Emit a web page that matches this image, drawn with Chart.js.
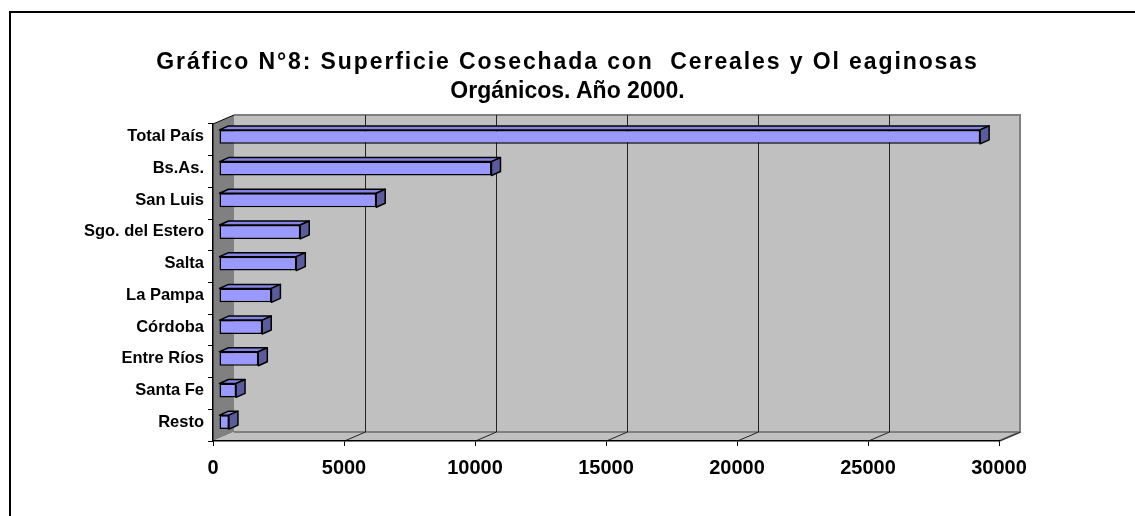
<!DOCTYPE html>
<html>
<head>
<meta charset="utf-8">
<script src="https://cdn.jsdelivr.net/npm/chart.js@4"></script>
<style>
  body { margin: 0; background: #fff; }
  #wrap { position: relative; width: 1135px; height: 516px; overflow: hidden; }
  #frame { position: absolute; left: 9px; top: 11px; width: 1200px; height: 600px;
           border-left: 2px solid #000; border-top: 2px solid #000; }
  #title { position: absolute; left: 0; top: 47px; width: 1135px; text-align: center;
           font: bold 23px "Liberation Sans", Arial, sans-serif; line-height: 29px; color: #000; }
  #title .l1 { letter-spacing: 1.9px; }
  canvas { position: absolute; left: 0; top: 0; }
</style>
</head>
<body>
<div id="wrap">
  <div id="frame"></div>
  <canvas id="myChart" width="1135" height="516"></canvas>
  <div id="title"><span class="l1">Gráfico N°8: Superficie Cosechada con&nbsp; Cereales y Ol eaginosas</span><br>Orgánicos. Año 2000.</div>
</div>
<script>
const categories = [
  'Total País', 'Bs.As.', 'San Luis', 'Sgo. del Estero', 'Salta',
  'La Pampa', 'Córdoba', 'Entre Ríos', 'Santa Fe', 'Resto'
];
const superficie = [29050, 10400, 6000, 3100, 2950, 2000, 1650, 1500, 650, 380];
const xMin = 0;
const xMax = 30000;
const xStep = 5000;

// depth of the 3d box and of the bars
const wallDx = 21, wallDy = -9;
const barShiftX = 6, barShiftY = -3;
const barDx = 9, barDy = -4;

const walls = {
  id: 'walls',
  beforeDraw(chart) {
    const ctx = chart.ctx;
    const a = chart.chartArea;
    const xs = chart.scales.x;
    ctx.save();
    // back wall
    ctx.fillStyle = '#c0c0c0';
    ctx.fillRect(a.left + wallDx, a.top + wallDy, a.right - a.left, a.bottom - a.top);
    // left wall
    ctx.fillStyle = '#808080';
    ctx.beginPath();
    ctx.moveTo(a.left, a.top);
    ctx.lineTo(a.left + wallDx, a.top + wallDy);
    ctx.lineTo(a.left + wallDx, a.bottom + wallDy);
    ctx.lineTo(a.left, a.bottom);
    ctx.closePath();
    ctx.fill();
    // floor
    ctx.fillStyle = '#c0c0c0';
    ctx.beginPath();
    ctx.moveTo(a.left, a.bottom);
    ctx.lineTo(a.left + wallDx, a.bottom + wallDy);
    ctx.lineTo(a.right + wallDx, a.bottom + wallDy);
    ctx.lineTo(a.right, a.bottom);
    ctx.closePath();
    ctx.fill();
    // wall edges
    ctx.strokeStyle = '#808080';
    ctx.lineWidth = 2;
    ctx.beginPath();
    ctx.moveTo(a.left + wallDx, a.top + wallDy);
    ctx.lineTo(a.right + wallDx, a.top + wallDy);
    ctx.lineTo(a.right + wallDx, a.bottom + wallDy);
    ctx.lineTo(a.right, a.bottom);
    ctx.moveTo(a.left + wallDx, a.bottom + wallDy);
    ctx.lineTo(a.right + wallDx, a.bottom + wallDy);
    ctx.stroke();
    // gridlines on back wall and floor
    ctx.strokeStyle = '#222';
    ctx.lineWidth = 1;
    for (let v = xMin + xStep; v < xMax; v += xStep) {
      const x = Math.round(xs.getPixelForValue(v)) + 0.5;
      ctx.beginPath();
      ctx.moveTo(x + wallDx, a.top + wallDy);
      ctx.lineTo(x + wallDx, a.bottom + wallDy);
      ctx.stroke();
    }
    for (let v = xMin + xStep; v <= xMax; v += xStep) {
      const x = Math.round(xs.getPixelForValue(v)) + 0.5;
      ctx.beginPath();
      ctx.moveTo(x, a.bottom);
      ctx.lineTo(x + wallDx, a.bottom + wallDy);
      ctx.stroke();
    }
    ctx.beginPath();
    ctx.moveTo(a.left, a.top);
    ctx.lineTo(a.left + wallDx, a.top + wallDy);
    ctx.strokeStyle = '#000';
    ctx.stroke();
    ctx.restore();
  },
  beforeDatasetsDraw(chart) {
    chart.ctx.save();
    chart.ctx.translate(barShiftX, barShiftY);
  },
  afterDatasetsDraw(chart) {
    const ctx = chart.ctx;
    const meta = chart.getDatasetMeta(0);
    ctx.lineWidth = 1.5;
    ctx.strokeStyle = '#000';
    ctx.lineJoin = 'round';
    meta.data.forEach(bar => {
      const p = bar.getProps(['x', 'y', 'base', 'height'], true);
      const top = p.y - p.height / 2, bot = p.y + p.height / 2;
      // top face
      ctx.fillStyle = '#8484e6';
      ctx.beginPath();
      ctx.moveTo(p.base, top);
      ctx.lineTo(p.base + barDx, top + barDy);
      ctx.lineTo(p.x + barDx, top + barDy);
      ctx.lineTo(p.x, top);
      ctx.closePath();
      ctx.fill();
      ctx.stroke();
      // side face
      ctx.fillStyle = '#5c5c9c';
      ctx.beginPath();
      ctx.moveTo(p.x, top);
      ctx.lineTo(p.x + barDx, top + barDy);
      ctx.lineTo(p.x + barDx, bot + barDy);
      ctx.lineTo(p.x, bot);
      ctx.closePath();
      ctx.fill();
      ctx.stroke();
    });
    ctx.restore();
  }
};

const data = {
  labels: categories,
  datasets: [{
    data: superficie,
    backgroundColor: '#9999ff',
    borderColor: '#000',
    borderWidth: 1.5,
    borderSkipped: false,
    barPercentage: 0.44,
    categoryPercentage: 1,
    clip: false
  }]
};

const config = {
  type: 'bar',
  data: data,
  options: {
    indexAxis: 'y',
    responsive: false,
    animation: false,
    layout: { padding: { top: 124, right: 136, left: 0, bottom: 0 } },
    scales: {
      x: {
        min: xMin,
        max: xMax,
        afterFit(s) { s.height = 75; },
        ticks: {
          stepSize: xStep,
          color: '#000',
          padding: 10,
          callback: v => String(v),
          font: { family: 'Liberation Sans', weight: 'bold', size: 20 }
        },
        grid: { drawOnChartArea: false, drawTicks: true, tickLength: 5, color: '#000' },
        border: { color: '#000', width: 1.5 }
      },
      y: {
        afterFit(s) { s.width = 213; },
        ticks: {
          color: '#000',
          padding: 4,
          labelOffset: -3,
          font: { family: 'Liberation Sans', weight: 'bold', size: 16.5 }
        },
        grid: { drawOnChartArea: false, drawTicks: true, tickLength: 5, color: '#000' },
        border: { color: '#000', width: 1.5 }
      }
    },
    plugins: {
      legend: { display: false },
      tooltip: { enabled: false },
      title: { display: false }
    }
  },
  plugins: [walls]
};

const myChart = new Chart(document.getElementById('myChart'), config);
</script>
</body>
</html>
